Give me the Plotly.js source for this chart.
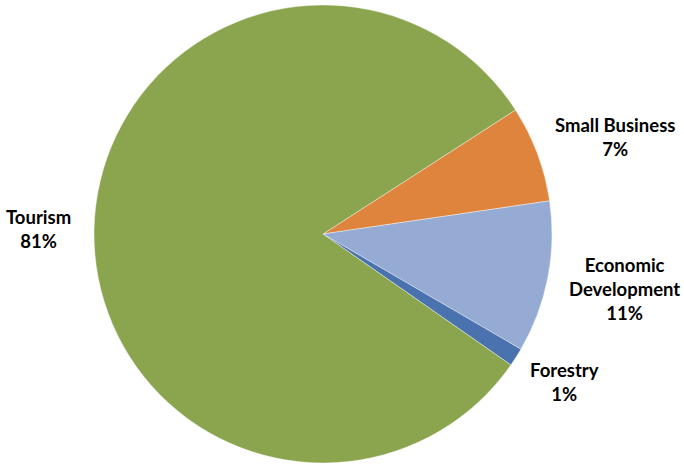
<!DOCTYPE html>
<html>
<head>
<meta charset="utf-8">
<script src="https://cdn.plot.ly/plotly-3.0.1.min.js"></script>
<style>html,body{margin:0;padding:0;background:#fff;}#chart{width:684px;height:465px;}</style>
</head>
<body>
<div id="chart"></div>
<script>
const categories = ["Small Business", "Economic Development", "Forestry", "Tourism"];
const displayLabels = ["Small Business", "Economic<br>Development", "Forestry", "Tourism"];
const values = [6.8, 10.7, 1.3, 81.2];
const colors = ["#DF843D", "#95ABD3", "#4A72AE", "#8BA54F"];

const W = 684, H = 465;
const cx = 323, cy = 234, r = 229;
const rotation = 57.2;
const fontFamily = "Lato, 'Open Sans', sans-serif";
const fontSize = 18.5;
const lineH = fontSize * 1.3;

// compute label positions from the data (mid-angle of each slice)
const total = values.reduce((a, b) => a + b, 0);
const ctx = document.createElement("canvas").getContext("2d");
ctx.font = "bold " + fontSize + "px Lato";
const annotations = [];
let cum = 0;
values.forEach((v, i) => {
  const pct = Math.round(v / total * 100) + "%";
  const lines = displayLabels[i].split("<br>").concat([pct]);
  const w = Math.max(...lines.map(s => ctx.measureText(s).width));
  const h = lines.length * lineH;
  const mid = (90 - rotation - (cum + v / 2) / total * 360) * Math.PI / 180;
  cum += v;
  const Rl = r * 1.1;
  const px = cx + (Rl + 0) * Math.cos(mid) + w / 2 * Math.cos(mid);
  const py = cy - Rl * Math.sin(mid) - h / 2 * Math.sin(mid);
  annotations.push({
    xref: "paper", yref: "paper",
    x: px / W, y: 1 - py / H,
    xanchor: "center", yanchor: "middle",
    text: "<b>" + lines.join("<br>") + "</b>",
    showarrow: false, align: "center",
    font: {family: fontFamily, size: fontSize, color: "#000"}
  });
});

Plotly.newPlot("chart", [{
  type: "pie",
  labels: categories,
  values: values,
  sort: false,
  direction: "clockwise",
  rotation: rotation,
  marker: {colors: colors, line: {color: "#ffffff", width: 0.4}},
  textinfo: "none",
  hoverinfo: "none",
  showlegend: false,
  domain: {x: [(cx - r) / W, (cx + r) / W], y: [(H - cy - r) / H, (H - cy + r) / H]}
}], {
  width: W, height: H,
  margin: {l: 0, r: 0, t: 0, b: 0},
  paper_bgcolor: "#fff",
  showlegend: false,
  annotations: annotations
}, {displayModeBar: false, staticPlot: true});
</script>
</body>
</html>
